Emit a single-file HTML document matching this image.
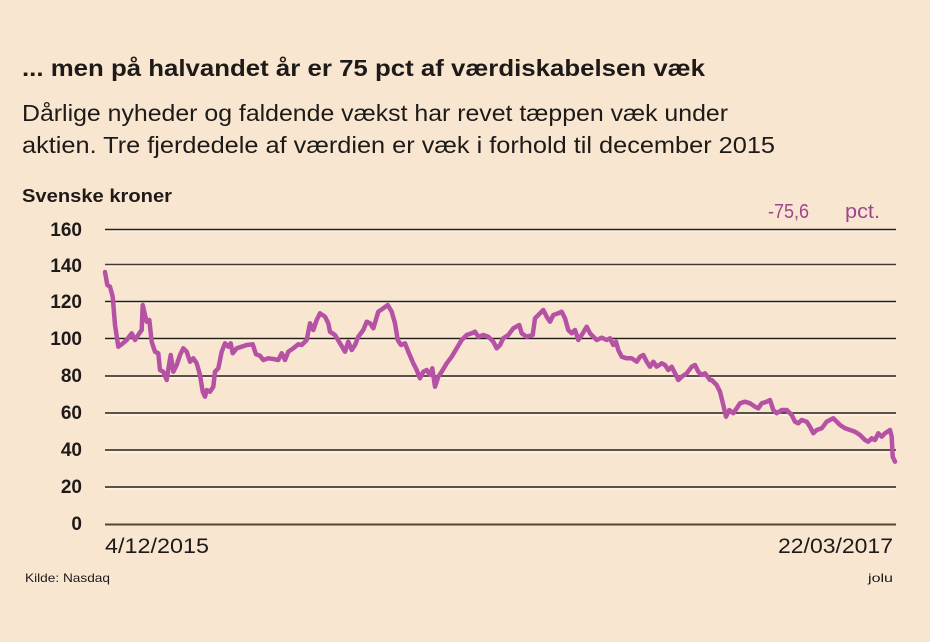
<!DOCTYPE html>
<html>
<head>
<meta charset="utf-8">
<style>
  html,body{margin:0;padding:0;background:#f8e6d1;}
  svg{display:block;}
</style>
</head>
<body>
<svg width="930" height="642" viewBox="0 0 930 642" xmlns="http://www.w3.org/2000/svg">
  <rect x="0" y="0" width="930" height="642" fill="#f8e6d1"/>
  <text x="22" y="76" font-family="Liberation Sans, sans-serif" font-weight="bold" font-size="23" fill="#1e1a17" textLength="683" lengthAdjust="spacingAndGlyphs">... men på halvandet år er 75 pct af værdiskabelsen væk</text>
  <text x="22" y="121" font-family="Liberation Sans, sans-serif" font-size="23" fill="#1e1a17" textLength="706" lengthAdjust="spacingAndGlyphs">Dårlige nyheder og faldende vækst har revet tæppen væk under</text>
  <text x="22" y="153" font-family="Liberation Sans, sans-serif" font-size="23" fill="#1e1a17" textLength="753" lengthAdjust="spacingAndGlyphs">aktien. Tre fjerdedele af værdien er væk i forhold til december 2015</text>
  <text x="22" y="202" font-family="Liberation Sans, sans-serif" font-weight="bold" font-size="18" fill="#1e1a17" textLength="150" lengthAdjust="spacingAndGlyphs">Svenske kroner</text>
  <text x="768" y="218" font-family="Liberation Sans, sans-serif" font-size="20" fill="#a0458f" textLength="41" lengthAdjust="spacingAndGlyphs">-75,6</text>
  <text x="845" y="218" font-family="Liberation Sans, sans-serif" font-size="20" fill="#a0458f" textLength="35" lengthAdjust="spacingAndGlyphs">pct.</text>

  <g stroke="#ffffff" stroke-opacity="0.5" stroke-width="1.5">
    <line x1="105" y1="231" x2="896" y2="231"/>
    <line x1="105" y1="266" x2="896" y2="266"/>
    <line x1="105" y1="303" x2="896" y2="303"/>
    <line x1="105" y1="340" x2="896" y2="340"/>
    <line x1="105" y1="378" x2="896" y2="378"/>
    <line x1="105" y1="415" x2="896" y2="415"/>
    <line x1="105" y1="452" x2="896" y2="452"/>
    <line x1="105" y1="489" x2="896" y2="489"/>
  </g>
  <g stroke="#2a211a" stroke-width="1.6">
    <line x1="105" y1="229.5" x2="896" y2="229.5"/>
    <line x1="105" y1="264.5" x2="896" y2="264.5" stroke="#4a3a2e"/>
    <line x1="105" y1="301.5" x2="896" y2="301.5"/>
    <line x1="105" y1="338.5" x2="896" y2="338.5"/>
    <line x1="105" y1="376" x2="896" y2="376"/>
    <line x1="105" y1="413" x2="896" y2="413"/>
    <line x1="105" y1="450" x2="896" y2="450"/>
    <line x1="105" y1="487" x2="896" y2="487"/>
  </g>
  <line x1="105" y1="524.5" x2="896" y2="524.5" stroke="#5a4632" stroke-width="2"/>

  <g font-family="Liberation Sans, sans-serif" font-weight="bold" font-size="19" fill="#1e1a17" text-anchor="end">
    <text x="82" y="236">160</text>
    <text x="82" y="272">140</text>
    <text x="82" y="308">120</text>
    <text x="82" y="345">100</text>
    <text x="82" y="382">80</text>
    <text x="82" y="419">60</text>
    <text x="82" y="456">40</text>
    <text x="82" y="493">20</text>
    <text x="82" y="530">0</text>
  </g>

  <polyline fill="none" stroke="#b652a4" stroke-width="4.5" stroke-linejoin="round" stroke-linecap="round"
    points="105,272 107.3,285 110,286.7 112.7,296.7 115,325 118.3,346.7 121.7,344.3 126.7,340 131.7,333.3 135,340 139.3,333.3 141.7,330 142.7,305 145,315 146.7,321.7 149.3,320 151.7,341.7 153.3,346.7 155,351.7 158.3,353.3 160,370 163.3,371.7 166.7,380 169,365 170.7,355 173.3,371.7 176.7,365 180,355 183.3,348.3 186.7,351.7 190,361.7 193.3,358.3 196.7,363.3 200,375 202.7,391.7 205,396.7 206.7,390 210,391.7 213.3,386.7 215,371.7 218.3,368.3 221.7,351.7 225,343.3 228.3,346.7 230.7,343.3 232.7,353.3 236.7,348.3 241.7,346.7 246.7,345 252.7,344.3 256,354.3 260,355.7 263.3,360 268.3,358.3 273.3,359 278.3,360 281.7,353.3 285,360 288.3,351.7 293.3,348.3 298.3,344.3 301.7,345 306.7,340 310,323.3 313.3,330 316.7,320 320,313.3 325,316.7 328.3,323.3 330,331.7 335,335 340,343.3 345,351.7 348.3,341.7 351.7,350 355,345 358.3,336.7 363.3,330 366.7,321.7 370,323.3 373.3,328.3 378.3,311.7 383.3,308.3 387.7,305 391.7,311.7 395,323.3 397.7,340 401,345 405,343.3 408.3,351.7 413.3,363.3 416.7,370 420,378.3 423.3,371.7 426.7,370 430,375 432.3,368.3 435,386.7 438.3,376.7 441.7,371.7 446.7,363.3 451.7,356.7 456.7,348.3 461.7,340 466.7,335 471.7,333.3 475,331.7 478.3,336.7 483.3,335 488.3,336.7 493.3,341.7 496.7,348.3 500,345 503.3,338.3 508.3,335 513.3,328.3 519.3,325 521.7,333.3 526.7,336.7 532.7,335 535,318.3 540,313.3 543.3,310 546.7,316.7 550,321.7 553.3,315 558.3,313.3 561.7,311.7 565,318.3 568.3,330 571.7,333.3 575,330 578.3,340 581.7,335 586.7,326.7 590,333.3 593.3,336.7 596.7,340 601.7,337.7 606.7,340 610,338.3 613.3,345 616,341.7 618.3,350 621.7,356.7 626.7,358.3 631.7,358.3 636.7,361.7 640,356.7 643.3,355 646.7,361.7 650,366.7 653.3,361.7 656.7,366.7 661.7,363.3 665,365 668.3,370 671.7,366.7 675,373.3 678.3,380 681.7,376.7 686.7,373.3 691.7,366.7 695,365 698.3,371.7 701.7,375 705,373.3 710,380 711.7,380 716.7,385 720,391.7 723.3,405 726,416.7 729.3,410 733.3,413.3 736.7,408.3 740,403.3 745,401.7 750,403.3 755,406.7 758.3,408.3 761.7,403.3 766.7,401.7 770,400 773.3,410 776.7,413.3 781.7,410 786.7,410 791.7,415 795,421.7 798.3,423.3 801.7,420 806.7,421.7 810,426.7 813.3,433.3 816.7,430 821.7,428.3 826.7,421.7 830,420 833.3,418.3 836.7,421.7 840,425 845,428.3 850,430 855,431.7 860,435 865,440 868.3,441.7 871.7,438.3 875,440 878.3,433.3 881.7,436.7 885,433.3 890,430 891.7,436.7 892.7,456.7 895,461.7"/>

  <text x="105" y="553" font-family="Liberation Sans, sans-serif" font-size="21" fill="#1e1a17" textLength="104" lengthAdjust="spacingAndGlyphs">4/12/2015</text>
  <text x="893" y="553" font-family="Liberation Sans, sans-serif" font-size="21" fill="#1e1a17" text-anchor="end" textLength="115" lengthAdjust="spacingAndGlyphs">22/03/2017</text>
  <text x="25" y="582" font-family="Liberation Sans, sans-serif" font-size="12" fill="#1e1a17" textLength="85" lengthAdjust="spacingAndGlyphs">Kilde: Nasdaq</text>
  <text x="893" y="582" font-family="Liberation Sans, sans-serif" font-size="12" fill="#1e1a17" text-anchor="end" textLength="25" lengthAdjust="spacingAndGlyphs">jolu</text>
</svg>
</body>
</html>
